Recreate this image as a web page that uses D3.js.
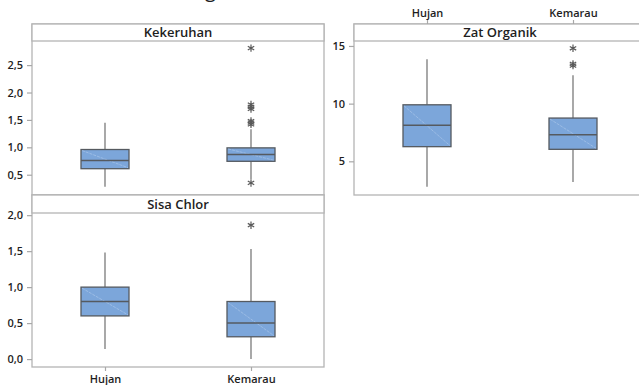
<!DOCTYPE html>
<html>
<head>
<meta charset="utf-8">
<script src="https://cdn.jsdelivr.net/npm/d3@7"></script>
<style>
  html, body { margin: 0; padding: 0; background: #fff; }
  svg { display: block; font-family: "Open Sans", "Noto Sans", sans-serif; }
</style>
</head>
<body>
<svg id="chart" width="639" height="385"></svg>
<script>
// Seasons compared in every panel
const categories = ["Hujan", "Kemarau"];

// Kekeruhan (turbidity) box statistics per season
const kekeruhanLow    = [0.28, 0.42];
const kekeruhanQ1     = [0.61, 0.745];
const kekeruhanMedian = [0.76, 0.87];
const kekeruhanQ3     = [0.96, 0.99];
const kekeruhanHigh   = [1.45, 1.33];
const kekeruhanOutliersHujan   = [];
const kekeruhanOutliersKemarau = [0.35, 1.42, 1.45, 1.48, 1.70, 1.74, 1.78, 2.81];
const kekeruhanTicks = [0.5, 1.0, 1.5, 2.0, 2.5];

// Sisa Chlor (residual chlorine) box statistics per season
const chlorLow    = [0.14, 0.00];
const chlorQ1     = [0.60, 0.31];
const chlorMedian = [0.80, 0.50];
const chlorQ3     = [1.00, 0.80];
const chlorHigh   = [1.48, 1.53];
const chlorOutliersHujan   = [];
const chlorOutliersKemarau = [1.86];
const chlorTicks = [0.0, 0.5, 1.0, 1.5, 2.0];

// Zat Organik (organic matter) box statistics per season
const organikLow    = [2.8, 3.2];
const organikQ1     = [6.27, 6.04];
const organikMedian = [8.12, 7.31];
const organikQ3     = [9.90, 8.75];
const organikHigh   = [13.85, 12.46];
const organikOutliersHujan   = [];
const organikOutliersKemarau = [13.3, 13.45, 14.8];
const organikTicks = [5, 10, 15];

const svg = d3.select("#chart");

const commaFmt = d3.formatLocale({ decimal: ",", thousands: ".", grouping: [3], currency: ["", ""] });
const fmt1 = commaFmt.format(".1f");
const fmt0 = commaFmt.format("d");

const BORDER = "#b4b4b4";
const BOX_FILL = "#7ca6da";
const BOX_STROKE = "#555a60";
const WHISKER = "#7a7a7a";
const TEXT = "#1e1e1e";

// Title line sits above the top edge of the canvas
const title = svg.append("text")
  .attr("y", -3.5)
  .attr("font-size", 20)
  .attr("fill", TEXT)
  .text("Perbandingan");
const gIdx = title.text().lastIndexOf("g");
const gx = title.node().getStartPositionOfChar(gIdx).x;
title.attr("x", 205 - gx);

function panel(cfg) {
  const { x0, x1, top, stripBottom, bottom } = cfg;
  const g = svg.append("g");

  const x = d3.scalePoint().domain(categories).range([x0, x1]).padding(0.5);
  const y = d3.scaleLinear().domain(cfg.domain).range([bottom, stripBottom]);

  // plot frame
  g.append("rect")
    .attr("x", x0).attr("y", top)
    .attr("width", x1 - x0).attr("height", bottom - top)
    .attr("fill", "#fff").attr("stroke", BORDER).attr("stroke-width", 1.3);

  // strip header
  g.append("rect")
    .attr("x", x0).attr("y", top)
    .attr("width", x1 - x0).attr("height", stripBottom - top)
    .attr("fill", "#fff").attr("stroke", BORDER).attr("stroke-width", 1.3);
  g.append("text")
    .attr("x", (x0 + x1) / 2)
    .attr("y", (top + stripBottom) / 2 + 4.6)
    .attr("text-anchor", "middle")
    .attr("font-size", 13)
    .attr("font-weight", 600)
    .attr("fill", TEXT)
    .text(cfg.name);

  // y axis
  const yAxis = d3.axisLeft(y).tickValues(cfg.ticks).tickFormat(cfg.fmt).tickSize(5).tickPadding(4);
  const ya = g.append("g").attr("transform", `translate(${x0},0)`).call(yAxis);
  ya.select(".domain").remove();
  ya.selectAll(".tick line").attr("stroke", "#a8a8a8").attr("stroke-width", 1.2);
  ya.selectAll(".tick text")
    .attr("font-size", 11).attr("font-weight", 600).attr("fill", TEXT)
    .attr("font-family", "'Open Sans', 'Noto Sans', sans-serif");

  // x axis (bottom or top)
  if (cfg.xAxis) {
    const isTop = cfg.xAxis === "top";
    const axis = (isTop ? d3.axisTop(x) : d3.axisBottom(x)).tickSize(4).tickPadding(isTop ? 3 : 4);
    const xa = g.append("g").attr("transform", `translate(0,${isTop ? top : bottom})`).call(axis);
    xa.select(".domain").remove();
    xa.selectAll(".tick line").attr("stroke", "#a8a8a8").attr("stroke-width", 1.2);
    xa.selectAll(".tick text")
      .attr("font-size", 11).attr("font-weight", 600).attr("fill", TEXT)
      .attr("font-family", "'Open Sans', 'Noto Sans', sans-serif");
  }

  const bw = 48;
  const rows = categories.map((c, i) => ({
    c, lo: cfg.low[i], q1: cfg.q1[i], med: cfg.median[i], q3: cfg.q3[i], hi: cfg.high[i],
    out: cfg.outliers[i]
  }));

  const b = g.selectAll(".box").data(rows).join("g").attr("class", "box");

  // whiskers
  b.append("line")
    .attr("x1", d => x(d.c)).attr("x2", d => x(d.c))
    .attr("y1", d => y(d.q3)).attr("y2", d => y(d.hi))
    .attr("stroke", WHISKER).attr("stroke-width", 1.3);
  b.append("line")
    .attr("x1", d => x(d.c)).attr("x2", d => x(d.c))
    .attr("y1", d => y(d.q1)).attr("y2", d => y(d.lo))
    .attr("stroke", WHISKER).attr("stroke-width", 1.3);

  // interquartile box
  b.append("rect")
    .attr("x", d => x(d.c) - bw / 2).attr("width", bw)
    .attr("y", d => y(d.q3)).attr("height", d => y(d.q1) - y(d.q3))
    .attr("fill", BOX_FILL).attr("stroke", BOX_STROKE).attr("stroke-width", 1.3);

  // light diagonal sheen across the box
  b.append("line")
    .attr("x1", d => x(d.c) - bw / 2 + 1).attr("y1", d => y(d.q3) + 1)
    .attr("x2", d => x(d.c) + bw / 2 - 1).attr("y2", d => y(d.q1) - 1)
    .attr("stroke", "#d4e3f6").attr("stroke-width", 0.6).attr("stroke-opacity", 0.6)
    .attr("stroke-dasharray", "3,1");

  // median
  b.append("line")
    .attr("x1", d => x(d.c) - bw / 2).attr("x2", d => x(d.c) + bw / 2)
    .attr("y1", d => y(d.med)).attr("y2", d => y(d.med))
    .attr("stroke", BOX_STROKE).attr("stroke-width", 1.5);

  // outliers
  const star = d3.symbol().type(d3.symbolAsterisk).size(38);
  b.selectAll(".out").data(d => d.out.map(v => ({ c: d.c, v }))).join("path")
    .attr("class", "out")
    .attr("transform", d => `translate(${x(d.c)},${y(d.v)})`)
    .attr("d", star)
    .attr("fill", "none").attr("stroke", "#5a5a5a").attr("stroke-width", 1.2);
}

panel({
  name: "Kekeruhan", x0: 32, x1: 324, top: 24, stripBottom: 41, bottom: 195,
  domain: [0.13, 2.94], ticks: kekeruhanTicks, fmt: fmt1,
  low: kekeruhanLow, q1: kekeruhanQ1, median: kekeruhanMedian, q3: kekeruhanQ3, high: kekeruhanHigh,
  outliers: [kekeruhanOutliersHujan, kekeruhanOutliersKemarau]
});

panel({
  name: "Sisa Chlor", x0: 32, x1: 324, top: 195, stripBottom: 213, bottom: 367,
  domain: [-0.11, 2.03], ticks: chlorTicks, fmt: fmt1, xAxis: "bottom",
  low: chlorLow, q1: chlorQ1, median: chlorMedian, q3: chlorQ3, high: chlorHigh,
  outliers: [chlorOutliersHujan, chlorOutliersKemarau]
});

panel({
  name: "Zat Organik", x0: 354, x1: 646, top: 24, stripBottom: 41, bottom: 195,
  domain: [2.08, 15.43], ticks: organikTicks, fmt: fmt0, xAxis: "top",
  low: organikLow, q1: organikQ1, median: organikMedian, q3: organikQ3, high: organikHigh,
  outliers: [organikOutliersHujan, organikOutliersKemarau]
});
</script>
</body>
</html>
